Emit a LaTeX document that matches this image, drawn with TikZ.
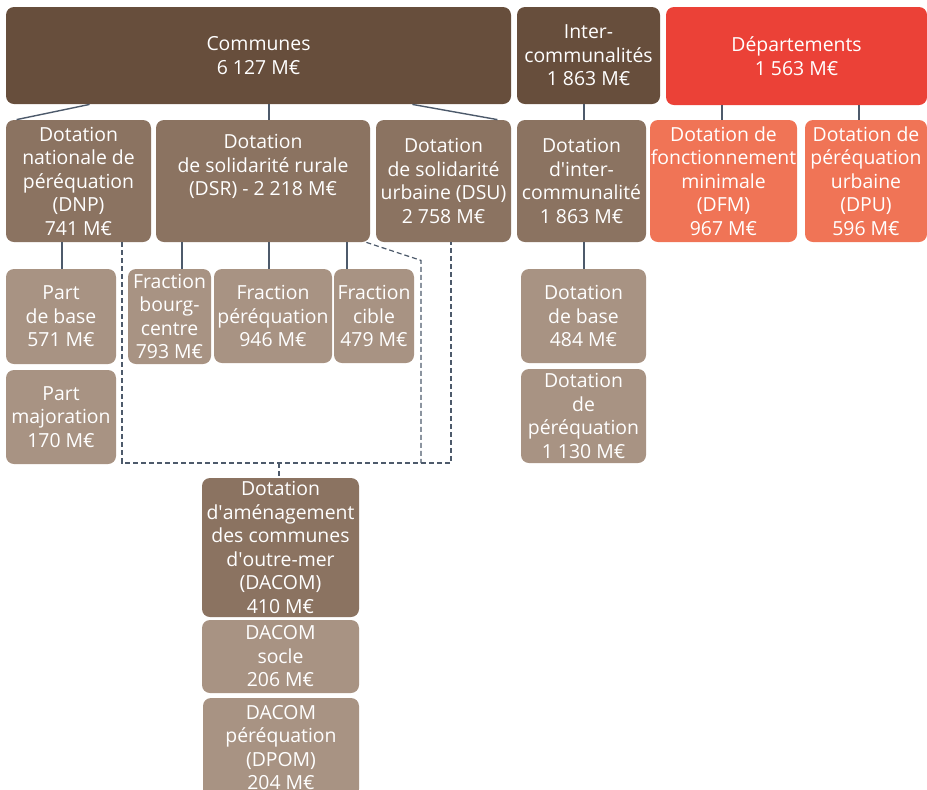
\documentclass[tikz,border=0pt]{standalone}
\usepackage{fontspec}
\setmainfont{Open Sans}
\usetikzlibrary{calc}
\definecolor{cdark}{HTML}{674E3C}
\definecolor{cmid}{HTML}{8B7361}
\definecolor{clight}{HTML}{A89383}
\definecolor{cred}{HTML}{EB4137}
\definecolor{csalmon}{HTML}{F07456}
\definecolor{cconn}{HTML}{4D5A6B}
\newcommand\aq{\textquotesingle}
\newcommand\orgbox[7]{\node[orgnode,#6,minimum width={(#4-#2)*0.5pt},minimum height={(#5-#3)*0.5pt}] (#1) at ({(#2+#4)/2},{(#3+#5)/2}) {#7};}
\tikzset{
  orgnode/.style={rounded corners=4pt, inner sep=0pt, align=center, text=white,
    font=\fontsize{9.7}{11.75}\selectfont},
  conn/.style={draw=cconn, line width=0.7pt},
  dsh/.style={draw=cconn, line width=0.6pt, dash pattern=on 2.5pt off 1.5pt},
}
\begin{document}
\begin{tikzpicture}[x=0.5pt,y=-0.5pt]
\useasboundingbox (0,0) rectangle (927,789);
\clip (0,0) rectangle (927,789);
% top row
\orgbox{communes}{6}{7}{511}{104}{fill=cdark}{Communes\\6 127 M€}
\orgbox{inter}{517}{7}{660}{104}{fill=cdark}{Inter-\\communalités\\1 863 M€}
\orgbox{dept}{666}{7}{927}{105}{fill=cred}{Départements\\1 563 M€}
% second row
\orgbox{dnp}{6}{120}{151}{242}{fill=cmid}{Dotation\\nationale de\\péréquation\\(DNP)\\741 M€}
\orgbox{dsr}{156}{120}{370}{242}{fill=cmid}{Dotation\\de solidarité rurale\\(DSR) - 2 218 M€\\[4pt]}
\orgbox{dsu}{376}{120}{511}{242}{fill=cmid}{Dotation\\de solidarité\\urbaine (DSU)\\2 758 M€}
\orgbox{dic}{517}{120}{646}{242}{fill=cmid}{Dotation\\d\aq inter-\\communalité\\1 863 M€}
\orgbox{dfm}{650}{120}{797}{242}{fill=csalmon}{Dotation de\\fonctionnement\\minimale\\(DFM)\\967 M€}
\orgbox{dpu}{805}{120}{927}{242}{fill=csalmon}{Dotation de\\péréquation\\urbaine\\(DPU)\\596 M€}
% third row
\orgbox{pbase}{6}{269}{116}{364}{fill=clight}{Part\\de base\\571 M€}
\orgbox{pmaj}{6}{370}{116}{464}{fill=clight}{Part\\majoration\\170 M€}
\orgbox{fbc}{128}{269}{211}{364}{fill=clight}{Fraction\\bourg-\\centre\\793 M€}
\orgbox{fper}{214}{269}{332}{363}{fill=clight}{Fraction\\péréquation\\946 M€}
\orgbox{fcib}{334}{269}{414}{363}{fill=clight}{Fraction\\cible\\479 M€}
\orgbox{dbase}{521}{269}{646}{363}{fill=clight}{Dotation\\de base\\484 M€}
\orgbox{dper}{521}{369}{646}{463}{fill=clight}{Dotation\\de\\péréquation\\1 130 M€}
% DACOM column
\orgbox{dacom}{202}{478}{359}{617}{fill=cmid}{Dotation\\d\aq aménagement\\des communes\\d\aq outre-mer\\(DACOM)\\410 M€}
\orgbox{dsoc}{202}{620}{359}{693}{fill=clight}{DACOM\\socle\\206 M€}
\orgbox{dpom}{203}{698}{359}{797}{fill=clight}{DACOM\\péréquation\\(DPOM)\\204 M€}
% connector positions
\coordinate (v1) at (269,0);
\coordinate (v2) at (584,0);
\coordinate (v3) at (722,0);
\coordinate (v4) at (859,0);
\coordinate (v5) at (62,0);
\coordinate (v6) at (182,0);
\coordinate (v7) at (347,0);
\coordinate (hb) at (0,463);
\coordinate (da) at (122,0);
\coordinate (db) at (421,0);
\coordinate (dc) at (451,0);
\coordinate (dd) at (279,0);
% solid connectors
\draw[conn] ($(communes.south west)+(84,0)$) -- ($(dnp.north west)+(11,0)$);
\draw[conn] (v1 |- communes.south) -- (v1 |- dsr.north);
\draw[conn] ($(communes.south east)+(-99,0)$) -- ($(dsu.north east)+(-14,0)$);
\draw[conn] (v2 |- inter.south) -- (v2 |- dic.north);
\draw[conn] (v3 |- dept.south) -- (v3 |- dfm.north);
\draw[conn] (v4 |- dept.south) -- (v4 |- dpu.north);
\draw[conn] (v5 |- dnp.south) -- (v5 |- pbase.north);
\draw[conn] (v6 |- dsr.south) -- (v6 |- fbc.north);
\draw[conn] (v1 |- dsr.south) -- (v1 |- fper.north);
\draw[conn] (v7 |- dsr.south) -- (v7 |- fcib.north);
\draw[conn] (v2 |- dic.south) -- (v2 |- dbase.north);
% dashed connectors
\draw[dsh] (da |- dnp.south) -- (da |- hb) -- (dc |- hb) -- (dc |- dsu.south);
\draw[dsh] ($(dsr.south east)+(-4,0)$) -- ($(db |- dsr.south)+(0,18)$) -- (db |- hb);
\draw[dsh] (dd |- hb) -- (dd |- dacom.north);
\end{tikzpicture}
\end{document}
